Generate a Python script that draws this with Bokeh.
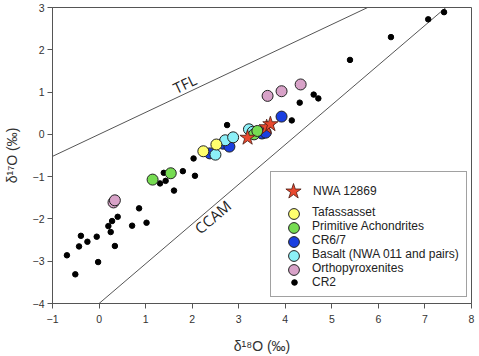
from bokeh.plotting import figure
from bokeh.models import Legend, LegendItem, Range1d, FixedTicker, Label
from bokeh.embed import file_html
from bokeh.resources import INLINE

# ---- data ----
cr2_x = [-0.69, -0.51, -0.43, -0.39, -0.25, -0.05, -0.02, 0.20, 0.25, 0.28, 0.34, 0.40,
         0.71, 0.86, 1.02, 1.31, 1.39, 1.43, 1.61, 1.80, 2.03, 2.06, 2.75, 4.14, 4.31,
         4.61, 4.71, 5.39, 6.27, 7.07, 7.41]
cr2_y = [-2.86, -3.31, -2.65, -2.40, -2.54, -2.42, -3.02, -2.17, -2.31, -2.05, -2.64, -1.95,
         -2.16, -1.75, -2.09, -1.16, -0.91, -1.10, -1.33, -0.87, -0.57, -0.98, 0.22, 0.33, 0.75,
         0.94, 0.85, 1.76, 2.30, 2.72, 2.89]

opx_x = [0.31, 0.34, 3.62, 3.92, 4.33]
opx_y = [-1.61, -1.56, 0.91, 1.02, 1.18]

cr67_x = [2.38, 2.66, 2.80, 3.50, 3.58, 3.92]
cr67_y = [-0.45, -0.22, -0.29, 0.02, 0.04, 0.42]

basalt_x = [2.50, 2.71, 2.88, 3.22, 3.30]
basalt_y = [-0.48, -0.14, -0.07, 0.12, 0.06]

prim_x = [1.15, 1.54, 3.33, 3.40]
prim_y = [-1.07, -0.92, 0.00, 0.08]

taf_x = [2.24, 2.52]
taf_y = [-0.40, -0.24]

nwa_x = [3.19, 3.60, 3.68]
nwa_y = [-0.08, 0.17, 0.24]

tfl_x = [-1.0, 5.77]
tfl_y = [-0.52, 3.0]
ccam_x = [0.0, 7.45]
ccam_y = [-4.0, 3.0]

x_ticks = [-1, 0, 1, 2, 3, 4, 5, 6, 7, 8]
y_ticks = [-4, -3, -2, -1, 0, 1, 2, 3]

FONT = "Liberation Sans"
AX = "#555555"

p = figure(width=479, height=356, output_backend="svg", toolbar_location=None,
           x_range=Range1d(-1, 8), y_range=Range1d(-4, 3),
           min_border_left=51, min_border_right=8, min_border_top=7, min_border_bottom=53)
p.background_fill_color = "white"
p.border_fill_color = "white"
p.outline_line_color = AX
p.outline_line_width = 1
p.grid.visible = False

for ax in (p.xaxis[0], p.yaxis[0]):
    ax.axis_line_color = AX
    ax.major_tick_line_color = AX
    ax.major_tick_out = 5
    ax.major_tick_in = 0
    ax.minor_tick_line_color = None
    ax.major_label_text_font = FONT
    ax.major_label_text_font_size = "10.5px"
    ax.major_label_text_color = "#333333"
    ax.axis_label_text_font = FONT
    ax.axis_label_text_font_size = "14px"
    ax.axis_label_text_font_style = "normal"
    ax.axis_label_text_color = "#333333"

p.xaxis.ticker = FixedTicker(ticks=x_ticks)
p.yaxis.ticker = FixedTicker(ticks=y_ticks)
p.xaxis.major_label_standoff = 6
p.yaxis.major_label_standoff = 3
p.xaxis.axis_label = "δ¹⁸O (‰)"
p.yaxis.axis_label = "δ¹⁷O (‰)"
p.xaxis.axis_label_standoff = 12
p.yaxis.axis_label_standoff = 10

# reference lines
p.line(tfl_x, tfl_y, line_color="#555555", line_width=1)
p.line(ccam_x, ccam_y, line_color="#555555", line_width=1)

p.add_layout(Label(x=1.84, y=1.20, text="TFL", angle=0.443, text_align="center",
                   text_baseline="middle", text_font="Open Sans", text_font_size="15px",
                   text_color="#222222"))
p.add_layout(Label(x=2.44, y=-1.95, text="CCAM", angle=0.706, text_align="center",
                   text_baseline="middle", text_font="Open Sans", text_font_size="15px",
                   text_color="#222222"))

OL = "#222222"
r_cr2 = p.scatter(cr2_x, cr2_y, size=5.5, fill_color="black", line_color="black")
r_opx = p.scatter(opx_x, opx_y, size=11, fill_color="#d8a2c8", line_color=OL, line_width=1)
r_cr67 = p.scatter(cr67_x, cr67_y, size=11, fill_color="#1a3fe0", line_color=OL, line_width=1)
r_bas = p.scatter(basalt_x, basalt_y, size=11, fill_color="#8cf0f8", line_color=OL, line_width=1)
r_prim = p.scatter(prim_x, prim_y, size=11, fill_color="#76dc52", line_color=OL, line_width=1)
r_taf = p.scatter(taf_x, taf_y, size=11, fill_color="#ffff6e", line_color=OL, line_width=1)
r_nwa = p.scatter(nwa_x, nwa_y, marker="star", size=16, fill_color="#e8492f",
                  line_color="#4a1a10", line_width=0.8)


def style_legend(lg, font_size="12px"):
    lg.label_text_font = FONT
    lg.label_text_font_size = font_size
    lg.label_text_color = "#222222"
    lg.margin = 0
    lg.click_policy = "none"


def overlay(lg):
    lg.border_line_alpha = 0
    lg.background_fill_alpha = 0
    return lg


# main bordered legend box with the labels (title row reserved for the star entry)
main_items = [
    LegendItem(label="Tafassasset", renderers=[r_taf]),
    LegendItem(label="Primitive Achondrites", renderers=[r_prim]),
    LegendItem(label="CR6/7", renderers=[r_cr67]),
    LegendItem(label="Basalt (NWA 011 and pairs)", renderers=[r_bas]),
    LegendItem(label="Orthopyroxenites", renderers=[r_opx]),
    LegendItem(label="CR2", renderers=[r_cr2]),
]
lg_main = Legend(items=main_items, location=(218, 6), title=" ",
                 title_text_font_size="15px", title_standoff=9,
                 padding=7, glyph_width=32, glyph_height=14, label_height=14, spacing=0,
                 label_standoff=2)
style_legend(lg_main)
lg_main.border_line_color = "#444444"
lg_main.border_line_width = 1
lg_main.background_fill_color = "white"
lg_main.background_fill_alpha = 1
p.add_layout(lg_main)

# larger legend symbols drawn over the small ones of the main legend
GX = 292          # legend symbol centre (screen x)
ROW0 = 213        # first label row centre (screen y)
PITCH = 14
FRAME_L, FRAME_B = 51, 303
for i, r in enumerate([r_taf, r_prim, r_cr67, r_bas, r_opx]):
    yc = ROW0 + i * PITCH
    lg = Legend(items=[LegendItem(label=" ", renderers=[r])],
                location=(GX - 13.5 - FRAME_L, FRAME_B - (yc + 13.5)),
                padding=0, glyph_width=27, glyph_height=27, label_standoff=0,
                label_height=10)
    style_legend(lg, "6px")
    p.add_layout(overlay(lg))

# star entry
lg_star = Legend(items=[LegendItem(label="NWA 12869", renderers=[r_nwa])],
                 location=(GX - 20 - FRAME_L, FRAME_B - (191 + 20)), padding=0,
                 glyph_width=40, glyph_height=40, label_standoff=0, label_height=14)
style_legend(lg_star)
p.add_layout(overlay(lg_star))

open("out.html", "w").write(file_html(p, INLINE))
